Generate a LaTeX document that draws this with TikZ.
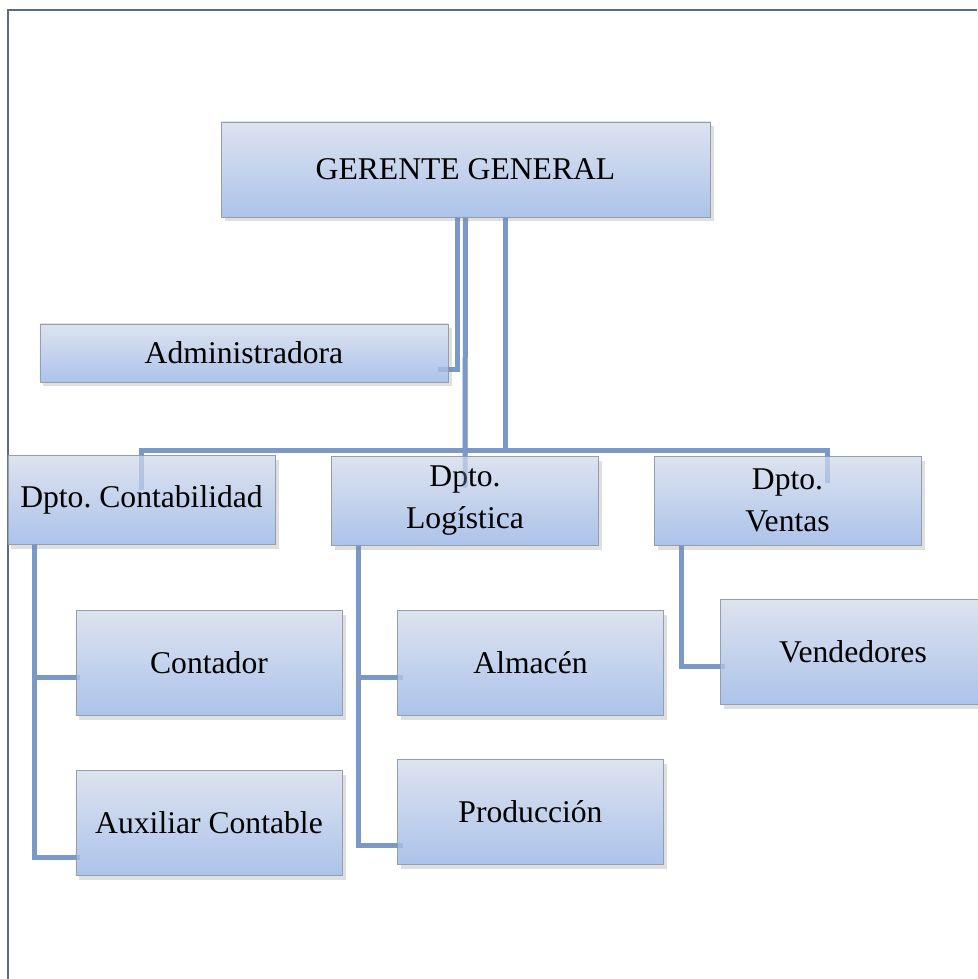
\documentclass[tikz,border=0pt]{standalone}
\usepackage{fontspec}
\setmainfont{Liberation Serif}
\usetikzlibrary{shadows,backgrounds}

\definecolor{linkblue}{RGB}{122,152,200}
\definecolor{boxtop}{RGB}{221,227,239}
\definecolor{boxbot}{RGB}{172,195,234}
\definecolor{boxgray}{RGB}{150,158,172}
\definecolor{framegray}{RGB}{92,106,134}

% conectores del organigrama
\newcommand{\enlaces}{%
  \draw[link] ([xshift=-1.6mm]ger.south) |- ([yshift=-3.4mm]adm.east) -- ++(-10,0);
  \draw[link] (ger.south) -- ([yshift=-6.4mm]log.north);
  \draw[link] ([xshift=8mm]ger.south) -- ++(0,234);
  \draw[link] ([yshift=-7mm]con.north) -- ([yshift=0.8mm]con.north) -| ([xshift=8mm,yshift=-5.4mm]ven.north);
  \draw[link] ([xshift=-21.3mm]con.south) |- ([xshift=0.8mm,yshift=-2.9mm]cnt.west);
  \draw[link] ([xshift=-21.3mm]con.south) |- ([xshift=0.8mm,yshift=-6.9mm]aux.west);
  \draw[link] ([xshift=-21.4mm]log.south) |- ([xshift=1.2mm,yshift=-2.9mm]alm.west);
  \draw[link] ([xshift=-21.4mm]log.south) |- ([xshift=1.2mm,yshift=-6.7mm]pro.west);
  \draw[link] ([xshift=-21.3mm]ven.south) |- ([xshift=1mm,yshift=-2.8mm]vnd.west);
}

\begin{document}
\frenchspacing
\begin{tikzpicture}[x=0.2mm,y=-0.2mm,
    caja/.style={draw=boxgray, line width=0.5pt, shading=axis,
      top color=boxtop, bottom color=boxbot,
      drop shadow={shadow xshift=0.7mm, shadow yshift=-0.9mm, opacity=0.25},
      font=\fontsize{18}{24}\selectfont, align=center, inner sep=0pt},
    depto/.style={caja, minimum width=53.4mm, minimum height=17.8mm},
    cargo/.style={caja, minimum width=53.2mm, minimum height=21mm},
    link/.style={draw=linkblue, line width=1mm}]
  \useasboundingbox (0,0) rectangle (977,979);
  \draw[framegray, line width=0.4mm] (8,979) -- (8,10) -- (977,10);

  \node[caja, minimum width=97.8mm, minimum height=19mm] (ger) at (465.5,169.5) {GERENTE GENERAL};
  \node[caja, minimum width=81.6mm, minimum height=11.6mm] (adm) at (244,353) {Administradora};

  \node[depto] (con) at (141.5,499.5) {Dpto. Contabilidad};
  \node[depto] (log) at (465,500.5) {Dpto.\\Logística};
  \node[depto] (ven) at (787.5,500.5) {Dpto.\\Ventas};

  \node[cargo] (cnt) at (209,662.5) {Contador};
  \node[cargo] (aux) at (209,822.5) {Auxiliar Contable};
  \node[cargo] (alm) at (530.5,662.5) {Almacén};
  \node[cargo] (pro) at (530.5,811.5) {Producción};
  \node[cargo] (vnd) at (853,652) {Vendedores};

  \begin{scope}[on background layer]
    \enlaces
  \end{scope}
  \begin{scope}[opacity=0.35]
    \enlaces
  \end{scope}
\end{tikzpicture}
\end{document}
